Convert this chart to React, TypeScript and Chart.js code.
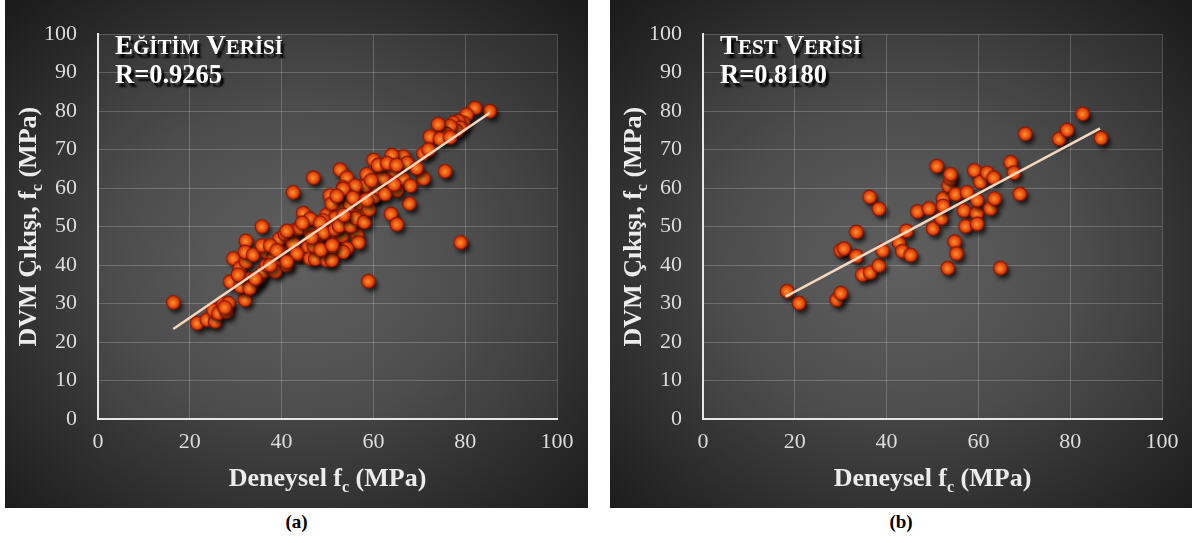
import React, { useEffect, useRef } from "react";
import { Chart, registerables } from "chart.js";
Chart.register(...registerables);

const SERIF = "'Liberation Serif', 'Times New Roman', Times, serif";

const xTickValues = [0, 20, 40, 60, 80, 100];
const yTickValues = [0, 10, 20, 30, 40, 50, 60, 70, 80, 90, 100];

// Training set (Eğitim Verisi): Deneysel fc vs DVM output
const trainX = [
  16.4, 21.6, 23.7, 25.5, 25.1, 26.2, 27.3, 28.4, 28.0, 32.0, 28.8, 29.5, 32.2, 35.7, 30.9, 32.2, 32.0, 33.8,
  32.7, 34.6, 35.3, 33.5, 36.0, 36.7, 36.7, 38.2, 38.9, 38.6, 41.1, 39.7, 39.5, 40.7, 42.2, 43.3, 43.6, 42.5,
  35.7, 37.5, 41.1, 46.9, 42.5, 52.7, 54.2, 53.4, 60.0, 58.5, 57.8, 56.4, 60.3, 50.5, 51.3, 52.4, 54.9, 57.1,
  54.2, 49.8, 44.7, 44.0, 46.2, 48.0, 50.5, 51.6, 53.1, 56.4, 56.7, 54.2, 51.3, 45.8, 43.3, 46.2, 47.3, 49.8,
  38.9, 41.1, 37.5, 46.2, 50.9, 51.6, 49.1, 48.4, 48.0, 49.1, 51.6,
  85.3, 82.1, 80.3, 79.6, 78.5, 77.4, 78.9, 78.1, 76.7, 75.9, 74.1, 72.3, 74.5, 76.7, 75.6, 70.9, 70.9, 66.5,
  64.0, 62.2, 64.3, 67.3, 69.4, 66.5, 68.0, 63.2, 60.7, 58.2, 56.0,
  79.0, 58.9, 67.8, 63.8, 65.1, 65.1, 53.4, 53.4, 50.9, 60.0,
  31.0, 33.0, 34.2, 30.5, 27.6, 47.0, 46.5, 48.5, 51.0, 52.5, 55.0, 56.2, 58.0, 53.5, 57.0, 59.0, 55.5, 58.5,
  61.0, 62.0, 61.0, 63.0, 65.0, 72.0, 44.5, 62.5, 64.5, 59.5, 52.0,
];
const trainY = [
  30.3, 24.9, 25.8, 25.4, 28.3, 27.5, 30.0, 30.1, 27.9, 31.0, 35.7, 41.7, 46.3, 50.0, 39.2, 40.9, 43.4, 42.7,
  36.3, 35.8, 37.1, 35.0, 38.4, 40.0, 43.4, 42.1, 39.6, 38.4, 40.0, 44.2, 46.8, 48.0, 46.8, 49.3, 42.6, 45.5,
  45.1, 45.1, 48.9, 62.7, 58.9, 64.8, 62.7, 60.2, 67.3, 63.6, 60.2, 59.8, 58.1, 58.1, 55.6, 54.7, 55.6, 53.5,
  51.8, 53.1, 53.5, 49.7, 48.9, 46.3, 49.3, 46.8, 47.6, 48.0, 45.9, 44.3, 43.4, 44.7, 43.0, 41.7, 41.6, 41.3,
  43.8, 40.9, 40.0, 52.0, 56.0, 52.2, 51.6, 51.0, 47.6, 48.4, 49.3,
  80.0, 80.8, 79.1, 77.0, 77.4, 77.0, 75.7, 74.9, 76.1, 74.1, 76.6, 73.4, 72.8, 73.2, 64.4, 62.5, 69.0, 68.2,
  68.6, 64.4, 64.4, 66.5, 65.2, 62.3, 60.6, 61.5, 61.9, 60.6, 60.6,
  45.9, 35.8, 56.0, 53.3, 50.6, 59.4, 59.8, 43.4, 41.3, 57.7,
  34.5, 34.0, 36.5, 37.5, 29.0, 45.0, 47.2, 44.0, 45.2, 50.2, 50.2, 52.2, 51.2, 53.0, 56.2, 54.5, 57.5, 57.0,
  60.0, 62.5, 66.0, 66.5, 66.0, 70.0, 51.0, 58.5, 61.0, 62.0, 58.0,
];
const trainLineX = [16.4, 85.3];
const trainLineY = [23.4, 79.5];

// Test set (Test Verisi)
const testX = [
  18.3, 20.9, 29.1, 30.0, 30.0, 30.7, 33.4, 33.4, 34.7, 36.4, 36.3, 38.3, 38.3, 39.1, 42.7, 43.4, 45.2, 44.3,
  46.7, 49.2, 50.1, 50.9, 51.9, 52.3, 52.3, 53.3, 53.5, 53.9, 53.9, 54.8, 55.2, 55.0, 56.8, 57.2, 57.5, 59.1,
  59.6, 59.7, 59.7, 60.4, 61.9, 62.6, 63.3, 63.5, 64.8, 67.0, 67.7, 69.0, 70.2, 77.6, 79.3, 82.7, 86.7,
];
const testY = [
  33.2, 30.1, 31.0, 32.7, 43.8, 44.3, 48.6, 42.3, 37.5, 38.1, 57.7, 54.6, 39.9, 43.8, 45.9, 43.6, 42.6, 48.9,
  53.9, 54.7, 49.5, 65.7, 52.2, 57.3, 55.4, 39.2, 60.6, 62.5, 63.6, 46.1, 43.0, 58.4, 54.2, 50.1, 58.9, 64.6,
  53.5, 56.9, 50.7, 61.6, 64.0, 54.7, 62.7, 57.3, 39.2, 66.7, 64.0, 58.5, 74.1, 72.8, 75.1, 79.3, 73.0,
];
const testLineX = [18.0, 86.5];
const testLineY = [31.8, 75.5];

type Seg = { text: string; size: number; dy?: number };

function measureRich(ctx: CanvasRenderingContext2D, segs: Seg[]) {
  let w = 0;
  for (const s of segs) {
    ctx.font = `bold ${s.size}px ${SERIF}`;
    w += ctx.measureText(s.text).width;
  }
  return w;
}

function drawRich(ctx: CanvasRenderingContext2D, segs: Seg[], x: number, y: number, center: boolean) {
  const w = measureRich(ctx, segs);
  let cx = center ? x - w / 2 : x;
  ctx.textAlign = "left";
  ctx.textBaseline = "alphabetic";
  for (const s of segs) {
    ctx.font = `bold ${s.size}px ${SERIF}`;
    ctx.fillText(s.text, cx, y + (s.dy || 0));
    cx += ctx.measureText(s.text).width;
  }
}

function makeSphere(): HTMLCanvasElement {
  const S = 30;
  const c = document.createElement("canvas");
  c.width = S;
  c.height = S;
  const ctx = c.getContext("2d")!;
  const cx = S / 2;
  const cy = S / 2;
  const r = 6.8;
  ctx.save();
  ctx.shadowColor = "rgba(0,0,0,0.7)";
  ctx.shadowBlur = 4;
  ctx.shadowOffsetX = 3;
  ctx.shadowOffsetY = 4;
  ctx.beginPath();
  ctx.arc(cx, cy, r, 0, Math.PI * 2);
  ctx.fillStyle = "#c83208";
  ctx.fill();
  ctx.restore();
  const g = ctx.createRadialGradient(cx - 0.5, cy + 0.5, 0.5, cx, cy, r);
  g.addColorStop(0, "#f7902e");
  g.addColorStop(0.5, "#ee5a12");
  g.addColorStop(1, "#c92c04");
  ctx.beginPath();
  ctx.arc(cx, cy, r, 0, Math.PI * 2);
  ctx.fillStyle = g;
  ctx.fill();
  ctx.lineWidth = 1.2;
  ctx.strokeStyle = "#8c1600";
  ctx.stroke();
  return c;
}

type PanelProps = {
  left: number;
  width: number;
  xs: number[];
  ys: number[];
  lx: number[];
  ly: number[];
  label: Seg[];
  rText: string;
  caption: string;
};

const PANEL_H = 508;
const AREA_TOP = 20;
const AREA_BOTTOM = 419;

function Panel(p: PanelProps) {
  const ref = useRef<HTMLCanvasElement | null>(null);
  useEffect(() => {
    if (!ref.current) return;
    const sprite = makeSphere();
    const yAxisW = 93;
    const rightPad = p.width - (yAxisW + 459);
    const plugin = {
      id: "panelDecor",
      beforeDraw(chart: any) {
        const { ctx, chartArea: a } = chart;
        ctx.save();
        ctx.fillStyle = "rgba(255,255,255,0.05)";
        ctx.fillRect(a.left, a.top, a.right - a.left, a.bottom - a.top);
        ctx.restore();
      },
      afterDraw(chart: any) {
        const { ctx, chartArea: a } = chart;
        ctx.save();
        ctx.fillStyle = "#ececec";
        drawRich(
          ctx,
          [
            { text: "Deneysel f", size: 26 },
            { text: "c", size: 16, dy: 6 },
            { text: " (MPa)", size: 26 },
          ],
          (a.left + a.right) / 2,
          486,
          true
        );
        ctx.translate(31, (a.top + a.bottom) / 2);
        ctx.rotate(-Math.PI / 2);
        drawRich(
          ctx,
          [
            { text: "DVM Çıkışı, f", size: 26 },
            { text: "c", size: 16, dy: 6 },
            { text: " (MPa)", size: 26 },
          ],
          0,
          0,
          true
        );
        ctx.restore();
        ctx.save();
        ctx.shadowColor = "rgba(0,0,0,0.95)";
        ctx.shadowBlur = 2;
        ctx.shadowOffsetX = 3;
        ctx.shadowOffsetY = 4;
        ctx.fillStyle = "#ffffff";
        drawRich(ctx, p.label, a.left + 17, 54, false);
        drawRich(ctx, [{ text: p.rText, size: 26.5 }], a.left + 17, 83, false);
        ctx.restore();
      },
    };
    const tickFont = { family: SERIF, size: 22 };
    const chart = new Chart(ref.current, {
      type: "scatter",
      data: {
        datasets: [
          {
            type: "line",
            data: p.lx.map((x, i) => ({ x, y: p.ly[i] })),
            borderColor: "#f6d7bf",
            borderWidth: 2.5,
            pointRadius: 0,
            showLine: true,
            fill: false,
            order: 0,
          } as any,
          {
            type: "scatter",
            data: p.xs.map((x, i) => ({ x, y: p.ys[i] })),
            pointStyle: sprite as any,
            pointRadius: 7,
            order: 1,
          } as any,
        ],
      },
      options: {
        animation: false,
        responsive: false,
        maintainAspectRatio: false,
        events: [],
        layout: { padding: { left: 0, top: AREA_TOP, right: rightPad, bottom: 0 } },
        plugins: { legend: { display: false }, tooltip: { enabled: false }, title: { display: false } },
        scales: {
          x: {
            type: "linear",
            min: 0,
            max: 100,
            afterBuildTicks: (s: any) => {
              s.ticks = xTickValues.map((v) => ({ value: v }));
            },
            afterFit: (s: any) => {
              s.height = PANEL_H - AREA_BOTTOM;
            },
            ticks: { color: "#dcdcdc", font: tickFont, padding: 10, maxRotation: 0 },
            grid: { color: "rgba(255,255,255,0.2)", lineWidth: 1, drawTicks: false },
            border: { color: "#e6e6e6", width: 2 },
          },
          y: {
            type: "linear",
            min: 0,
            max: 100,
            afterBuildTicks: (s: any) => {
              s.ticks = yTickValues.map((v) => ({ value: v }));
            },
            afterFit: (s: any) => {
              s.width = yAxisW;
            },
            ticks: { color: "#dcdcdc", font: tickFont, padding: 21 },
            grid: { color: "rgba(255,255,255,0.2)", lineWidth: 1, drawTicks: false },
            border: { color: "#e6e6e6", width: 2 },
          },
        },
      } as any,
      plugins: [plugin as any],
    });
    return () => chart.destroy();
  }, []);
  return (
    <>
      <div
        style={{
          position: "absolute",
          left: p.left,
          top: 0,
          width: p.width,
          height: PANEL_H,
          background:
            "radial-gradient(ellipse 70% 70% at 50% 52%, #585858 0%, #434343 45%, #2a2a2a 80%, #1c1c1c 100%)",
        }}
      >
        <canvas ref={ref} width={p.width} height={PANEL_H} style={{ display: "block" }} />
      </div>
      <div
        style={{
          position: "absolute",
          left: p.left,
          top: 511,
          width: p.width,
          textAlign: "center",
          fontFamily: SERIF,
          fontWeight: "bold",
          fontSize: 19,
          color: "#000",
        }}
      >
        {p.caption}
      </div>
    </>
  );
}

export default function App() {
  return (
    <div style={{ position: "absolute", left: 0, top: 0, width: 1197, height: 543, background: "#fff", overflow: "hidden" }}>
      <Panel
        left={5}
        width={583}
        xs={trainX}
        ys={trainY}
        lx={trainLineX}
        ly={trainLineY}
        label={[
          { text: "E", size: 27 },
          { text: "ĞİTİM", size: 21 },
          { text: " V", size: 27 },
          { text: "ERİSİ", size: 21 },
        ]}
        rText="R=0.9265"
        caption="(a)"
      />
      <Panel
        left={610}
        width={582}
        xs={testX}
        ys={testY}
        lx={testLineX}
        ly={testLineY}
        label={[
          { text: "T", size: 27 },
          { text: "EST", size: 21 },
          { text: " V", size: 27 },
          { text: "ERİSİ", size: 21 },
        ]}
        rText="R=0.8180"
        caption="(b)"
      />
    </div>
  );
}
